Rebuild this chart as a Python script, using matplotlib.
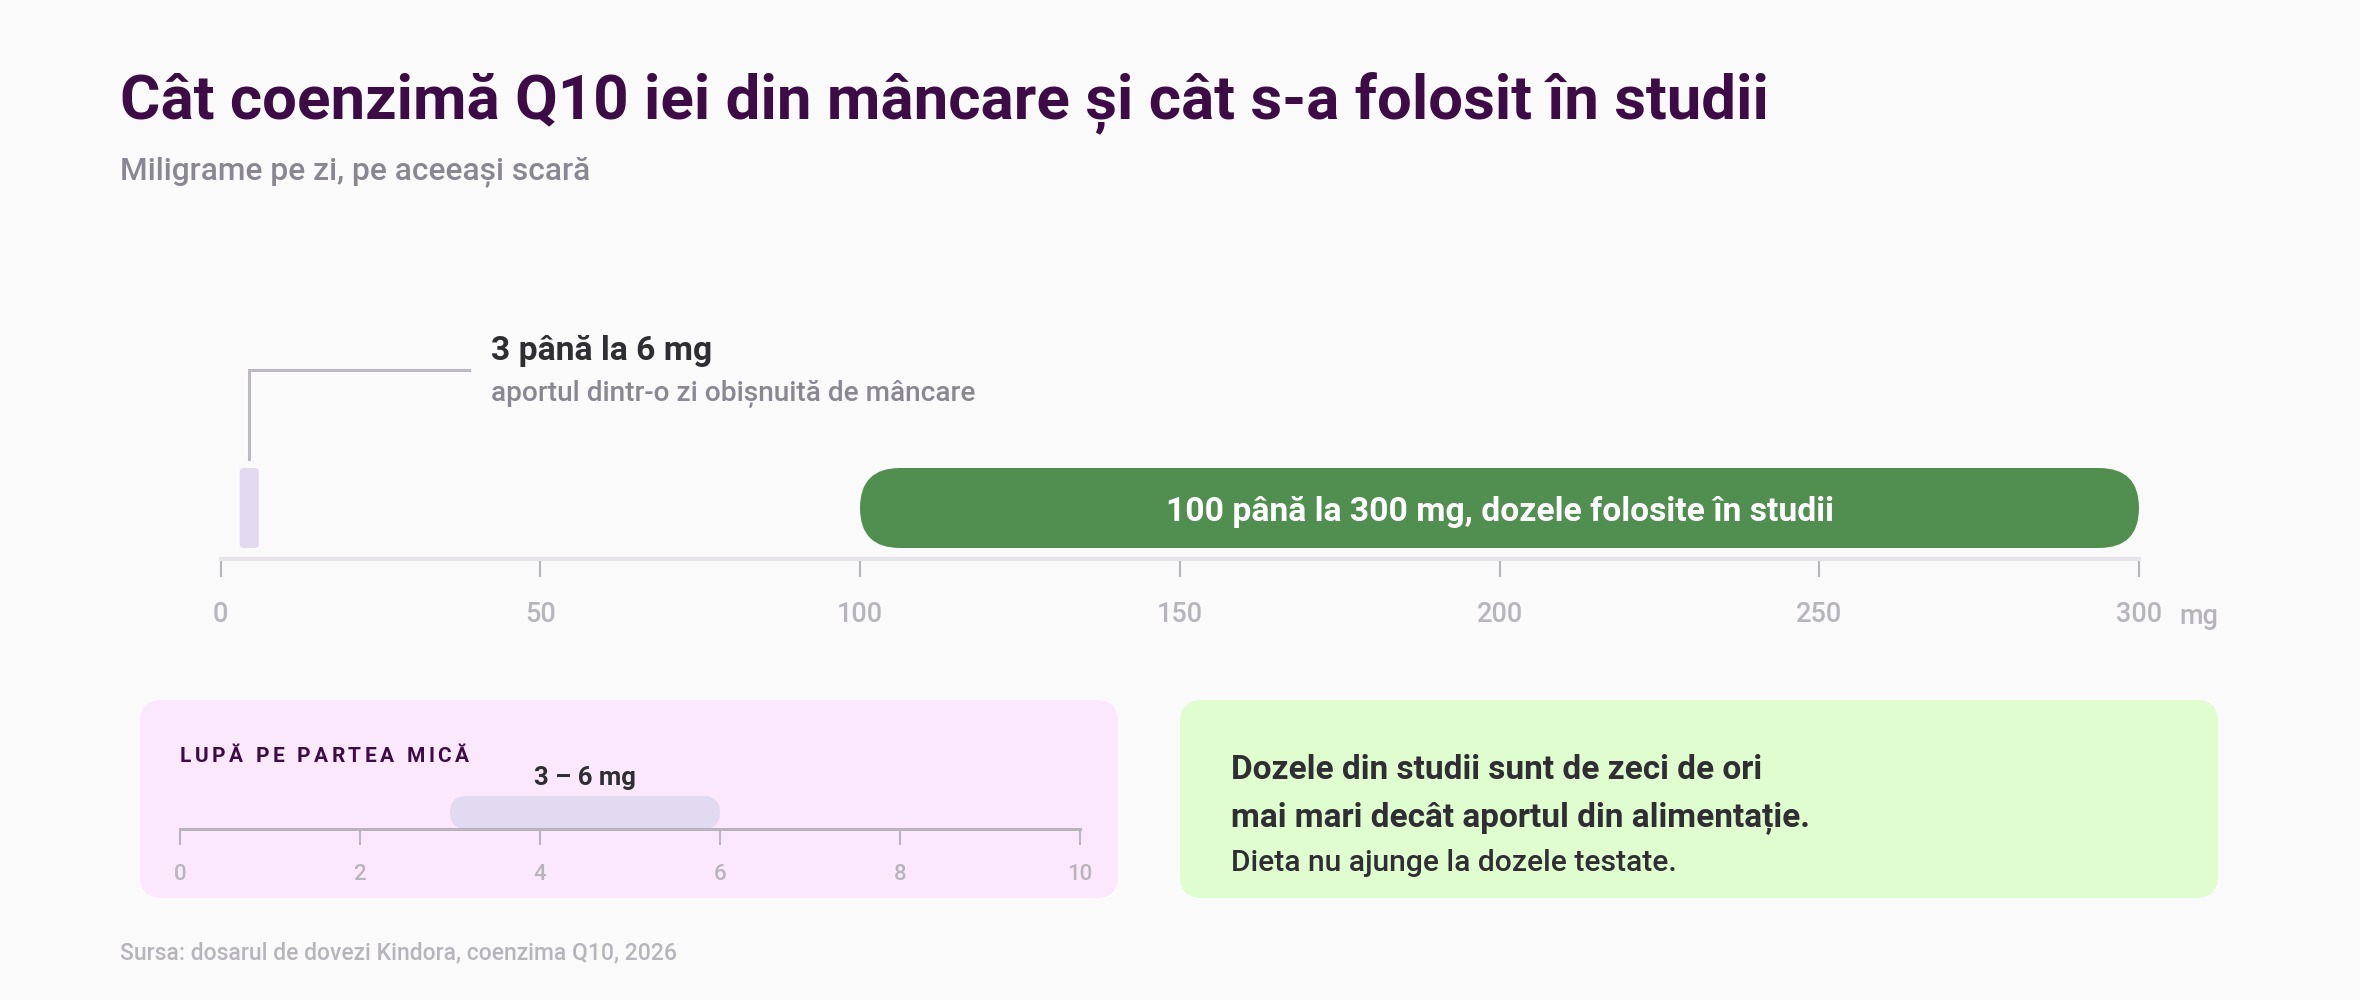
# -*- coding: utf-8 -*-
"""
Coenzima Q10: aportul din alimentatie vs dozele din studii
"""

import matplotlib
matplotlib.use("Agg")
import matplotlib.pyplot as plt
from matplotlib.patches import FancyBboxPatch
from matplotlib.transforms import IdentityTransform

plt.rcParams['font.family'] = ['Roboto', 'DejaVu Sans']

# Date
aport_alimente = [3, 6]          # mg/zi
doze_studii = [100, 300]         # mg/zi
ticks_principal = [0, 50, 100, 150, 200, 250, 300]
ticks_lupa = [0, 2, 4, 6, 8, 10]

titlu = "Cât coenzimă Q10 iei din mâncare și cât s-a folosit în studii"
subtitlu = "Miligrame pe zi, pe aceeași scară"
eticheta_aport = "3 până la 6 mg"
nota_aport = "aportul dintr-o zi obișnuită de mâncare"
eticheta_studii = "100 până la 300 mg, dozele folosite în studii"
titlu_lupa = "LUPĂ PE PARTEA MICĂ"
eticheta_lupa = "3 – 6 mg"
concluzie = ["Dozele din studii sunt de zeci de ori",
             "mai mari decât aportul din alimentație."]
concluzie2 = "Dieta nu ajunge la dozele testate."
sursa = "Sursa: dosarul de dovezi Kindora, coenzima Q10, 2026"

# Culori
FUNDAL = "#fafafa"
MOV = "#3d0b46"
GRI = "#8a8692"
GRI_DESCHIS = "#b8b4bc"
TEXT = "#2e2e33"
VERDE = "#508f50"
LAVANDA = "#e2daf0"
ROZ = "#fce8fd"
VERDE_DESCHIS = "#e0fdd0"

W, H = 2360, 1000
fig = plt.figure(figsize=(W / 100, H / 100), dpi=100, facecolor=FUNDAL)

# Axa de fundal, in pixeli (y de sus in jos)
bg = fig.add_axes([0, 0, 1, 1])
bg.set_xlim(0, W)
bg.set_ylim(H, 0)
bg.axis("off")
bg.set_facecolor(FUNDAL)


def px_axes(left, right, top, bottom):
    return [left / W, (H - bottom) / H, (right - left) / W, (bottom - top) / H]


def bara_rotunda(ax, x0, x1, y0, y1, culoare, raza=None):
    # colturile se calculeaza in pixeli, ca sa fie cercuri
    (a, b) = ax.transData.transform((x0, y0))
    (c, d) = ax.transData.transform((x1, y1))
    h = d - b
    r = h / 2 if raza is None else raza
    p = FancyBboxPatch((a, b), c - a, h,
                       boxstyle=f"round,pad=0,rounding_size={r}",
                       transform=IdentityTransform(), facecolor=culoare,
                       edgecolor="none", zorder=3)
    bg.add_patch(p)


# Titluri
bg.text(120, 119, titlu, fontsize=44.5, fontweight="bold", color=MOV, va="baseline")
bg.text(120, 179, subtitlu, fontsize=22.9, fontweight="medium", color=GRI, va="baseline")

# Scala principala
ax = fig.add_axes(px_axes(220.5, 2139, 459, 559))
ax.set_xlim(0, 300)
ax.set_ylim(0, 1)
ax.set_facecolor("none")
for s in ["top", "left", "right"]:
    ax.spines[s].set_visible(False)
ax.spines["bottom"].set_color("#e6e3e9")
ax.spines["bottom"].set_linewidth(2.9)
ax.set_yticks([])
ax.set_xticks(ticks_principal)
ax.set_xticklabels([str(t) for t in ticks_principal])
ax.tick_params(axis="x", length=13, width=1.5, color=GRI_DESCHIS,
               labelcolor=GRI_DESCHIS, labelsize=19.5, pad=17.5)
for t in ax.get_xticklabels():
    t.set_fontweight("medium")

fig.canvas.draw()
bara_rotunda(ax, aport_alimente[0], aport_alimente[1], 0.11, 0.91, LAVANDA, raza=4)
bara_rotunda(ax, doze_studii[0], doze_studii[1], 0.11, 0.91, VERDE)
ax.text(sum(doze_studii) / 2, 0.47, eticheta_studii, ha="center", va="center",
        fontsize=24.2, fontweight="bold", color="white", zorder=4)

# Linia de legatura spre eticheta
mijloc = sum(aport_alimente) / 2
ax.plot([mijloc, mijloc, 38.9], [1.0, 1.89, 1.89], color="#bcbac0",
        lw=2.2, clip_on=False, solid_joinstyle="miter")
bg.text(491, 360, eticheta_aport, fontsize=24.2, fontweight="bold", color=TEXT, va="baseline")
bg.text(491, 401, nota_aport, fontsize=20.2, fontweight="medium", color=GRI, va="baseline")
bg.text(2179, 624, "mg", fontsize=19.5, fontweight="medium", color=GRI_DESCHIS, va="baseline")

# Panouri
for (x0, x1, c) in [(140, 1118, ROZ), (1180, 2218, VERDE_DESCHIS)]:
    bg.add_patch(FancyBboxPatch((x0, 700), x1 - x0, 198,
                                boxstyle="round,pad=0,rounding_size=22",
                                facecolor=c, edgecolor="none"))

# Titlu lupa, cu spatiere intre litere
r = fig.canvas.get_renderer()
x = 180
for ch in titlu_lupa:
    t = bg.text(x, 762, ch, fontsize=15, fontweight="bold", color=MOV, va="baseline")
    w = t.get_window_extent(renderer=r).width if ch != " " else 6
    x += w + 3.4

# Scala lupa
ax2 = fig.add_axes(px_axes(180, 1080, 789, 829))
ax2.set_xlim(0, 10)
ax2.set_ylim(0, 1)
ax2.set_facecolor("none")
for s in ["top", "left", "right"]:
    ax2.spines[s].set_visible(False)
ax2.spines["bottom"].set_color(GRI_DESCHIS)
ax2.spines["bottom"].set_linewidth(2.2)
ax2.set_yticks([])
ax2.set_xticks(ticks_lupa)
ax2.set_xticklabels([str(t) for t in ticks_lupa])
ax2.tick_params(axis="x", length=11.5, width=1.5, color=GRI_DESCHIS,
                labelcolor=GRI_DESCHIS, labelsize=16, pad=13.5)
for t in ax2.get_xticklabels():
    t.set_fontweight("medium")
fig.canvas.draw()
bara_rotunda(ax2, aport_alimente[0], aport_alimente[1], 0.0, 0.825, LAVANDA)
bg.text(ax2.transData.transform((mijloc, 0))[0], 785, eticheta_lupa, ha="center",
        fontsize=18.5, fontweight="bold", color=TEXT, va="baseline")

# Concluzie
bg.text(1231, 779, concluzie[0], fontsize=24, fontweight="bold", color=TEXT, va="baseline")
bg.text(1231, 826, concluzie[1], fontsize=24, fontweight="bold", color=TEXT, va="baseline")
bg.text(1231, 871, concluzie2, fontsize=21.6, fontweight="medium", color=TEXT, va="baseline")

# Sursa
bg.text(120, 959, sursa, fontsize=16.5, fontweight="medium", color=GRI_DESCHIS, va="baseline")

fig.savefig("out.png", dpi=100, facecolor=FUNDAL)
